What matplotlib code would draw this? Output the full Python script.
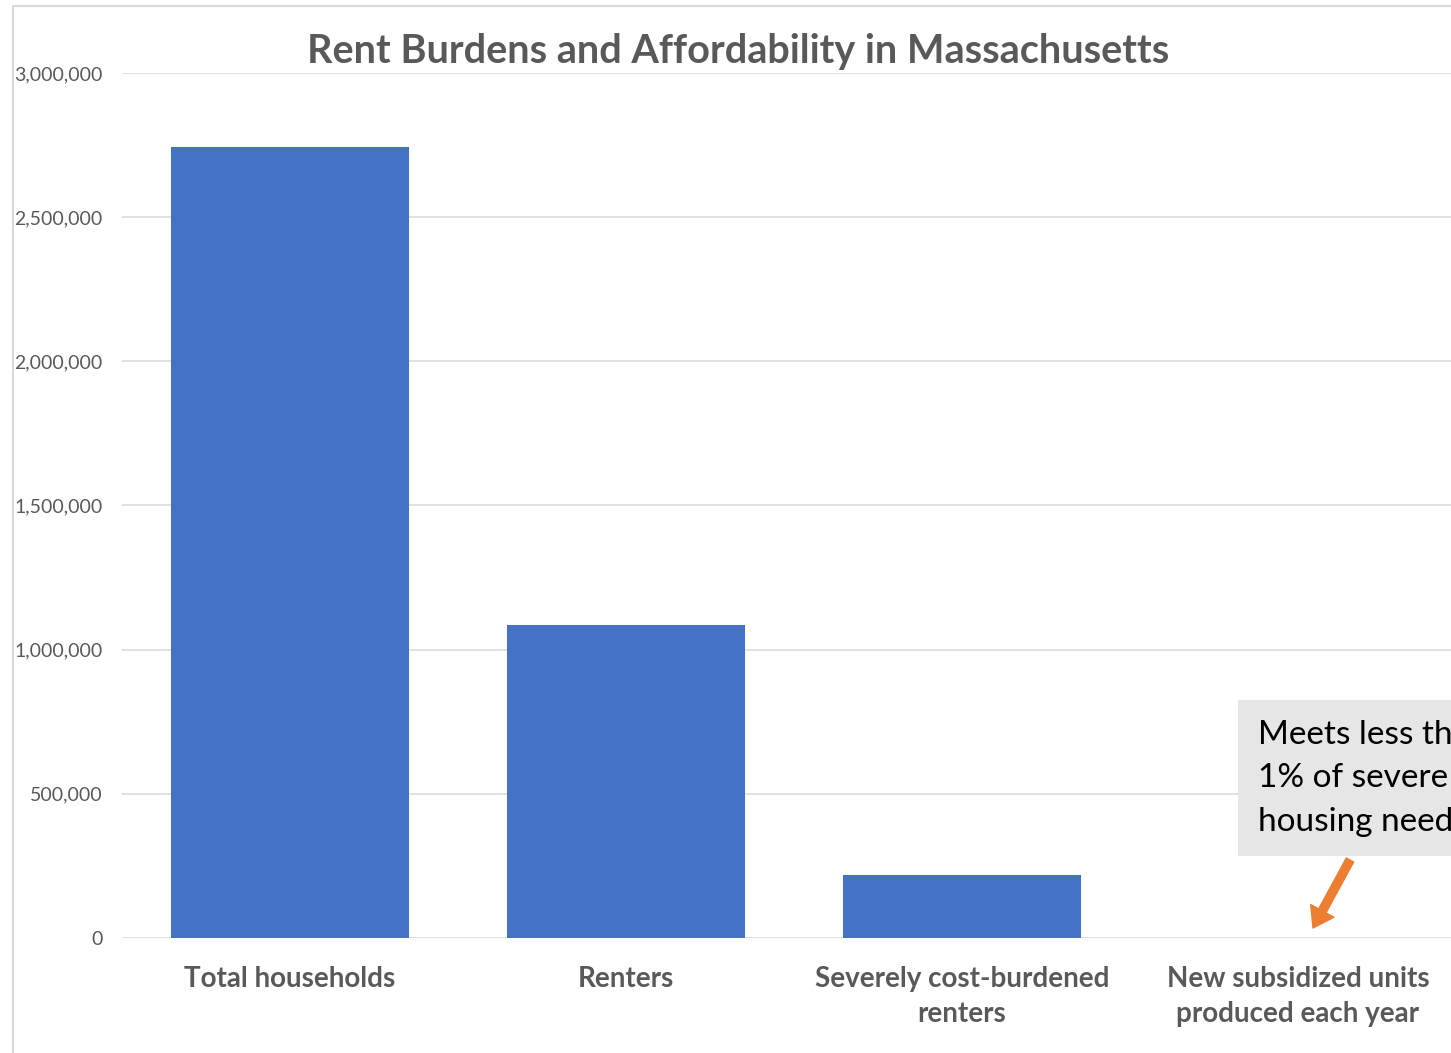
import matplotlib.pyplot as plt
from matplotlib.patches import Rectangle
from matplotlib.ticker import FuncFormatter

categories = ["Total households", "Renters", "Severely cost-burdened\nrenters",
              "New subsidized units\nproduced each year"]
households = [2743000, 1086000, 218000, 1500]
yticks = [0, 500000, 1000000, 1500000, 2000000, 2500000, 3000000]

plt.rcParams["font.family"] = ["Lato", "DejaVu Sans"]
gray = "#595959"

fig = plt.figure(figsize=(14.51, 10.53), dpi=100)
# plot area runs off the right edge, like the cropped original
ax = fig.add_axes([0.0841, 0.1092, 0.9262, 0.8215])

x = range(len(categories))
ax.bar(x, households, width=0.708, color="#4472C4", zorder=3)
ax.set_xlim(-0.5, 3.5)
ax.set_ylim(0, 3000000)
ax.set_yticks(yticks)
ax.yaxis.set_major_formatter(FuncFormatter(lambda v, p: f"{int(v):,}"))
ax.set_xticks(list(x))
ax.set_xticklabels(categories, fontsize=20, fontweight="bold", color=gray, linespacing=1.46)
ax.tick_params(axis="y", length=0, pad=14, labelsize=14, labelcolor=gray)
ax.tick_params(axis="x", length=0, pad=20)
ax.grid(axis="y", color="#d9d9d9", linewidth=1.1, zorder=0)
for s in ax.spines.values():
    s.set_visible(False)

fig.text(0.5086, 0.951, "Rent Burdens and Affordability in Massachusetts",
         ha="center", va="center", fontsize=28.5, fontweight="bold", color=gray)

# outer chart border
fig.patches.append(Rectangle((13 / 1451, -0.05), 1.1, 1 - 6 / 1053 + 0.05,
                             transform=fig.transFigure, fill=False,
                             edgecolor="#d9d9d9", linewidth=1.5))

# callout box
fig.patches.append(Rectangle((1238 / 1451, 1 - 856 / 1053), 0.2, 156 / 1053,
                             transform=fig.transFigure, facecolor="#e7e6e6",
                             edgecolor="none", zorder=5))
fig.text(1258 / 1451, 1 - 720 / 1053, "Meets less than\n1% of severe\nhousing need",
         ha="left", va="top", fontsize=24, color="black", linespacing=1.56, zorder=6)
ax.annotate("", xy=(1313 / 1451, 1 - 928 / 1053), xytext=(1350 / 1451, 1 - 860 / 1053),
            xycoords="figure fraction", textcoords="figure fraction",
            arrowprops=dict(width=6, headwidth=19, headlength=14, shrink=0,
                            color="#ED7D31"), annotation_clip=False)

fig.savefig("out.png", dpi=100)
